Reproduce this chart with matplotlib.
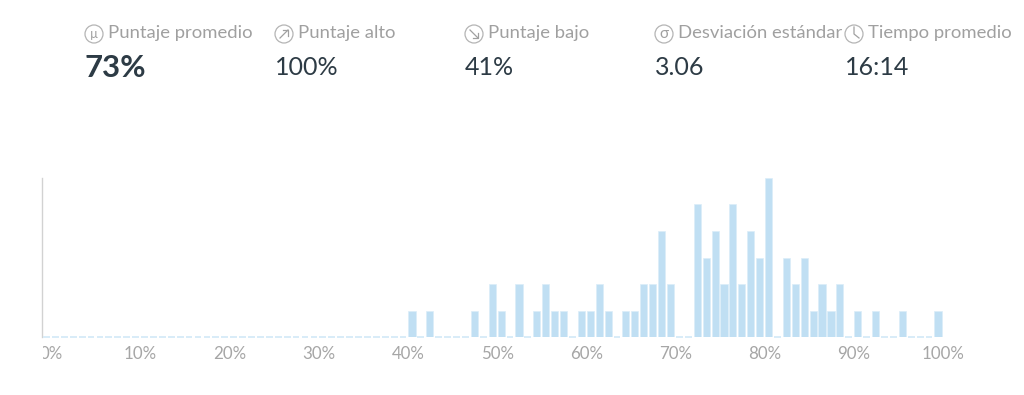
import numpy as np
import matplotlib
matplotlib.use("Agg")
import matplotlib.pyplot as plt
from matplotlib.patches import Circle
from matplotlib.transforms import Bbox

scores = list(range(0, 101))
count_scores = [41, 43, 48, 50, 51, 53, 55, 56, 57, 58, 60, 61, 62, 63, 65, 66, 67, 68, 69, 70,
                73, 74, 75, 76, 77, 78, 79, 80, 81, 83, 84, 85, 86, 87, 88, 89, 91, 93, 96, 100]
count_values = [1, 1, 1, 2, 1, 2, 1, 2, 1, 1, 1, 1, 2, 1, 1, 1, 2, 2, 4, 2,
                5, 3, 4, 2, 5, 2, 4, 3, 6, 3, 2, 3, 1, 2, 1, 2, 1, 1, 1, 1]
tick_values = list(range(0, 101, 10))
tick_labels = [f"{t}%" for t in tick_values]

stat_names = ["Puntaje promedio", "Puntaje alto", "Puntaje bajo", "Desviación estándar", "Tiempo promedio"]
stat_values = ["73%", "100%", "41%", "3.06", "16:14"]
stat_left = [85, 275, 465, 655, 845]

GRAY = "#a0a0a0"
DARK = "#2d3b45"
BAR = "#c0dff3"

plt.rcParams["font.family"] = ["Lato", "Open Sans", "DejaVu Sans"]

fig = plt.figure(figsize=(10.24, 3.95), dpi=100)

# chart area, in pixels: x 42..970, y 178..337
ax = fig.add_axes([42 / 1024, 1 - 337 / 395, 928 / 1024, 159 / 395])
counts = dict(zip(count_scores, count_values))
heights = [counts.get(s, 0) for s in scores]
px_per_bin = 8.915
ax.set_xlim(-0.5, -0.5 + 928 / px_per_bin)
ax.set_ylim(0, 6)
ax.bar(scores, heights, width=0.8, color=BAR, edgecolor="#dcedf9", linewidth=0.5)
zeros = [s for s, h in zip(scores, heights) if h == 0]
ax.hlines([0] * len(zeros), [s - 0.38 for s in zeros], [s + 0.38 for s in zeros],
          color="#d6ebf8", lw=1.3, clip_on=False, zorder=3)

for side in ["top", "right", "bottom"]:
    ax.spines[side].set_visible(False)
ax.spines["left"].set_color("#d2d2d2")
ax.spines["left"].set_linewidth(1)
ax.set_yticks([])
ax.set_xticks([t + 0.56 for t in tick_values], tick_labels)
ax.tick_params(axis="x", length=0, pad=6.5, labelsize=12.2, labelcolor="#a6a6a6")
clip = Bbox([[43, 0], [1024, 395]])
for label in ax.get_xticklabels():
    label.set_clip_box(clip)
    label.set_clip_on(True)

# header row drawn in pixel coordinates
top = fig.add_axes([0, 0, 1, 1])
top.set_xlim(0, 1024)
top.set_ylim(395, 0)
top.axis("off")
top.patch.set_alpha(0)

for i, (name, value, left) in enumerate(zip(stat_names, stat_values, stat_left)):
    top.text(left + 23, 33, name, fontsize=13.3, color=GRAY, va="center", ha="left")
    if i == 0:
        top.text(left, 68, value, fontsize=22.3, color=DARK, va="center", ha="left", fontweight="bold")
    else:
        top.text(left, 67.5, value, fontsize=18, color=DARK, va="center", ha="left")
    top.add_patch(Circle((left + 9, 34), 9, fill=False, ec="#b4b4b4", lw=0.9))

icon_x = [s + 9 for s in stat_left]
top.text(icon_x[0], 34, "µ", fontsize=9, color=GRAY, ha="center", va="center")
top.text(icon_x[3], 34, "σ", fontsize=11, color=GRAY, ha="center", va="center")
# arrow and clock glyphs
ux = icon_x[1]
top.plot([ux - 4, ux + 4], [38, 30], color=GRAY, lw=0.9)
top.plot([ux - 1.5, ux + 4, ux + 4], [30, 30, 35.5], color=GRAY, lw=0.9)
dx = icon_x[2]
top.plot([dx - 4, dx + 4], [30, 38], color=GRAY, lw=0.9)
top.plot([dx - 1.5, dx + 4, dx + 4], [38, 38, 32.5], color=GRAY, lw=0.9)
cx = icon_x[4]
top.plot([cx, cx, cx + 5], [27, 34, 38], color=GRAY, lw=0.9)

fig.savefig("out.png", dpi=100)
